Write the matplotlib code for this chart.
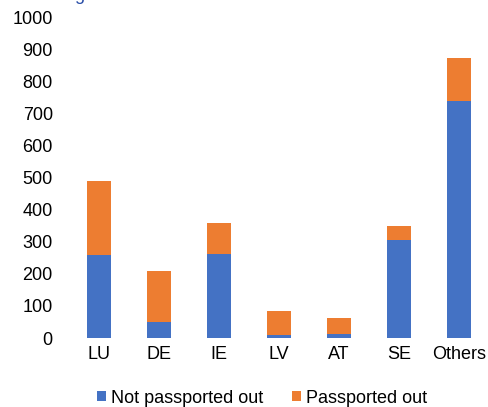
import matplotlib
matplotlib.use("Agg")
import matplotlib.pyplot as plt
import numpy as np

plt.rcParams['font.family'] = ['Liberation Sans', 'DejaVu Sans']

# data
countries = ["LU", "DE", "IE", "LV", "AT", "SE", "Others"]
not_passported = [260, 50, 262, 10, 13, 307, 739]
passported = [229, 159, 96, 73, 48, 41, 134]
y_ticks = list(range(0, 1001, 100))

blue = "#4472C4"
orange = "#ED7D31"

fig = plt.figure(figsize=(4.89, 4.07), dpi=100)
ax = fig.add_axes([0.142, 0.1695, 0.858, 0.7875])

x = np.arange(len(countries))
ax.bar(x, not_passported, width=0.4, color=blue, label="Not passported out")
ax.bar(x, passported, width=0.4, bottom=not_passported, color=orange,
       label="Passported out")

ax.set_xlim(-0.5, len(countries) - 0.5)
ax.set_ylim(0, 1000)
ax.set_yticks(y_ticks)
ax.set_xticks(x)
ax.set_xticklabels(countries)
ax.tick_params(axis="both", length=0, labelsize=13, colors="#000000")
ax.tick_params(axis="y", pad=12)
ax.tick_params(axis="x", pad=6)
for s in ax.spines.values():
    s.set_visible(False)

# cut-off title above the plot
fig.text(0.152, 1.0, "g", color="#2B4FA8", fontsize=13, va="baseline")

fig.legend(loc="center", bbox_to_anchor=(0.536, 0.022), ncol=2, frameon=False,
           fontsize=13, handlelength=0.5, handleheight=0.5, handletextpad=0.26,
           columnspacing=1.6)

fig.savefig("out.png", dpi=100)
